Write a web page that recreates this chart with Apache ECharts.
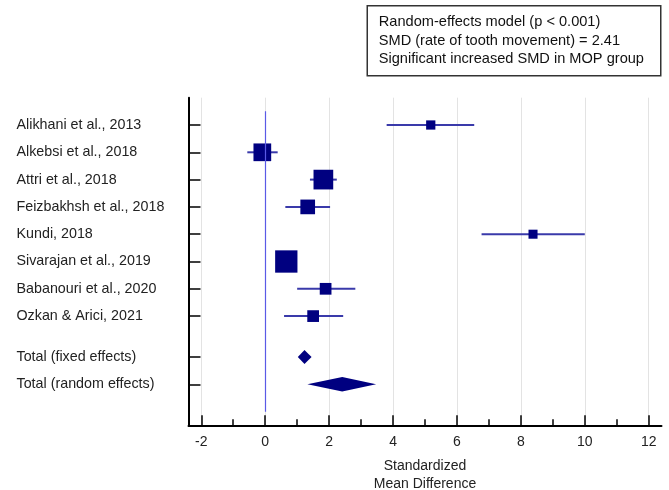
<!DOCTYPE html>
<html><head><meta charset="utf-8">
<script src="https://cdn.jsdelivr.net/npm/echarts@6/dist/echarts.min.js"></script>
<style>html,body{margin:0;padding:0;background:#fff}#c{width:669px;height:490px}</style>
</head><body><div id="c"></div>
<script>
const studies = ['Alikhani et al., 2013','Alkebsi et al., 2018','Attri et al., 2018','Feizbakhsh et al., 2018','Kundi, 2018','Sivarajan et al., 2019','Babanouri et al., 2020','Ozkan & Arici, 2021'];
const estimates = [5.18, -0.09, 1.82, 1.33, 8.38, 0.66, 1.89, 1.50];
const lower = [3.80, -0.56, 1.40, 0.63, 6.77, 0.35, 1.00, 0.59];
const upper = [6.54, 0.39, 2.24, 2.03, 10.00, 0.97, 2.82, 2.44];
const weights = [4.6, 16.9, 20.9, 11.6, 4.4, 26.8, 7.4, 7.4];
const studyRows = [0, 1, 2, 3, 4, 5, 6, 7];
const totalLabels = ['Total (fixed effects)', 'Total (random effects)'];
const totalEst = [1.23, 2.41];
const totalLower = [1.02, 1.32];
const totalUpper = [1.45, 3.47];
const totalRows = [8.5, 9.5];
const xTicks = [-2, 0, 2, 4, 6, 8, 10, 12];
const xMinorTicks = [-1, 1, 3, 5, 7, 9, 11];
const boxLines = ['Random-effects model (p < 0.001)', 'SMD (rate of tooth movement) = 2.41', 'Significant increased SMD in MOP group'];
const xAxisName = 'Standardized\nMean Difference';

const allRows = studyRows.concat(totalRows);
const allNames = studies.concat(totalLabels);
const nameOf = v => { const i = allRows.indexOf(v); return i >= 0 ? allNames[i] : ''; };

const studyData = studies.map((s, i) => [estimates[i], lower[i], upper[i], studyRows[i], weights[i]]);
const totalData = totalLabels.map((s, i) => [totalEst[i], totalLower[i], totalUpper[i], totalRows[i]]);

const FONT = 'Liberation Sans, Arial, sans-serif';
const chart = echarts.init(document.getElementById('c'), null, {renderer: 'canvas'});

function renderStudy(params, api) {
  const est = api.value(0), lo = api.value(1), hi = api.value(2), row = api.value(3), w = api.value(4);
  const c = api.coord([est, row]), a = api.coord([lo, row]), b = api.coord([hi, row]);
  const s = 4.31 * Math.sqrt(w);
  return {type: 'group', children: [
    {type: 'line', shape: {x1: a[0], y1: a[1], x2: b[0], y2: b[1]}, style: {stroke: '#3a3aaa', lineWidth: 2}},
    {type: 'rect', shape: {x: c[0] - s / 2, y: c[1] - s / 2, width: s, height: s}, style: {fill: '#000080'}}
  ]};
}
function renderTotal(params, api) {
  const est = api.value(0), lo = api.value(1), hi = api.value(2), row = api.value(3);
  const c = api.coord([est, row]), a = api.coord([lo, row]), b = api.coord([hi, row]);
  const h = params.dataIndex === 0 ? 14 : 14.5;
  return {type: 'polygon', shape: {points: [[a[0], a[1]], [c[0], c[1] - h / 2], [b[0], b[1]], [c[0], c[1] + h / 2]]}, style: {fill: '#000080'}};
}

chart.setOption({
  animation: false,
  textStyle: {fontFamily: FONT},
  grid: {left: 188.5, right: 7.5, top: 97.7, bottom: 64.7, containLabel: false, outerBoundsMode: 'none'},
  xAxis: [{
    type: 'value', min: -2.4, max: 12.4, position: 'bottom',
    axisLine: {show: true, onZero: false, lineStyle: {color: '#000', width: 2}},
    axisTick: {show: true, inside: true, length: 10, customValues: xTicks, lineStyle: {color: '#000', width: 1.5}},
    axisLabel: {customValues: xTicks, color: '#222', fontSize: 14, margin: 10, fontFamily: FONT},
    splitLine: {show: true, lineStyle: {color: '#e3e3e3', width: 1}},
    name: xAxisName, nameLocation: 'middle', nameGap: 32,
    nameTextStyle: {color: '#222', fontSize: 14, lineHeight: 18, fontFamily: FONT}
  }, {
    type: 'value', min: -2.4, max: 12.4, position: 'bottom',
    axisLine: {show: false, onZero: false},
    axisTick: {show: true, inside: true, length: 6, customValues: xMinorTicks, lineStyle: {color: '#000', width: 1.5}},
    axisLabel: {show: false},
    splitLine: {show: false}
  }],
  yAxis: {
    type: 'value', min: -1, max: 11, inverse: true,
    axisLine: {show: true, onZero: false, lineStyle: {color: '#000', width: 2}},
    axisTick: {show: true, inside: true, length: 12, customValues: allRows, lineStyle: {color: '#000', width: 1.5}},
    axisLabel: {customValues: allRows, formatter: v => nameOf(v), align: 'left', margin: 172, color: '#222', fontSize: 14.3, fontFamily: FONT},
    splitLine: {show: false}
  },
  graphic: [{
    type: 'group', left: 366.5, top: 5,
    children: [
      {type: 'rect', shape: {x: 0, y: 0, width: 293.5, height: 70}, style: {fill: '#fff', stroke: '#333', lineWidth: 1.5}},
      ...boxLines.map((t, i) => ({type: 'text', x: 11.5, y: 16 + i * 18.8, style: {text: t, fill: '#111', font: '14.6px ' + FONT, textVerticalAlign: 'middle'}}))
    ]
  }],
  series: [{
    type: 'custom', xAxisIndex: 0, renderItem: renderStudy, data: studyData, z: 3,
    markLine: {silent: true, symbol: 'none', label: {show: false}, lineStyle: {color: '#5a5ae6', width: 1.2, type: 'solid', opacity: 1},
      emphasis: {disabled: true},
      data: [[{coord: [0, -0.5]}, {coord: [0, 10.5]}]]}
  }, {
    type: 'custom', xAxisIndex: 0, renderItem: renderTotal, data: totalData, z: 3
  }]
});
</script></body></html>
